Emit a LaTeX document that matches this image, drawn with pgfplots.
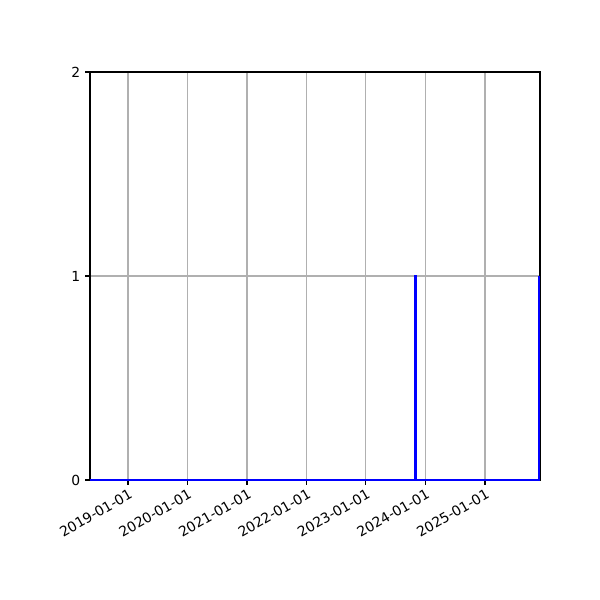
\documentclass[border=0pt]{standalone}
\usepackage{fontspec}
\setmainfont{DejaVu Sans}
\usepackage{pgfplots}
\pgfplotsset{compat=1.18}
\definecolor{gridgray}{HTML}{B0B0B0}

% x in days since 2019-01-01
\begin{document}
\begin{tikzpicture}
\begin{axis}[
    scale only axis,
    width=324pt, height=293.76pt,
    xmin=-233, xmax=2530,
    ymin=0, ymax=2,
    xtick={0,365,731,1096,1461,1826,2192},
    xticklabels={2019-01-01,2020-01-01,2021-01-01,2022-01-01,2023-01-01,2024-01-01,2025-01-01},
    ytick={0,1,2},
    xticklabel style={rotate=30, anchor=north east, inner sep=1pt, yshift=-1pt},
    tick label style={font=\fontsize{10}{12}\selectfont},
    /pgf/number format/assume math mode=true,
    tick align=outside, tick pos=left,
    major tick length=3.5pt,
    every tick/.style={black, line width=0.8pt},
    axis line style={line width=0.8pt},
    grid=major,
    major grid style={gridgray, line width=0.8pt},
    clip=false,
]
\addplot[blue, line width=1.6pt, mark=none, line join=miter] coordinates {
    (-233,0) (1765,0) (1765,1) (1766,1) (1766,0) (2526,0) (2526,1)
};
\end{axis}
\useasboundingbox (-64.8pt,-86.4pt) rectangle (367.2pt,345.6pt);
\end{tikzpicture}
\end{document}
